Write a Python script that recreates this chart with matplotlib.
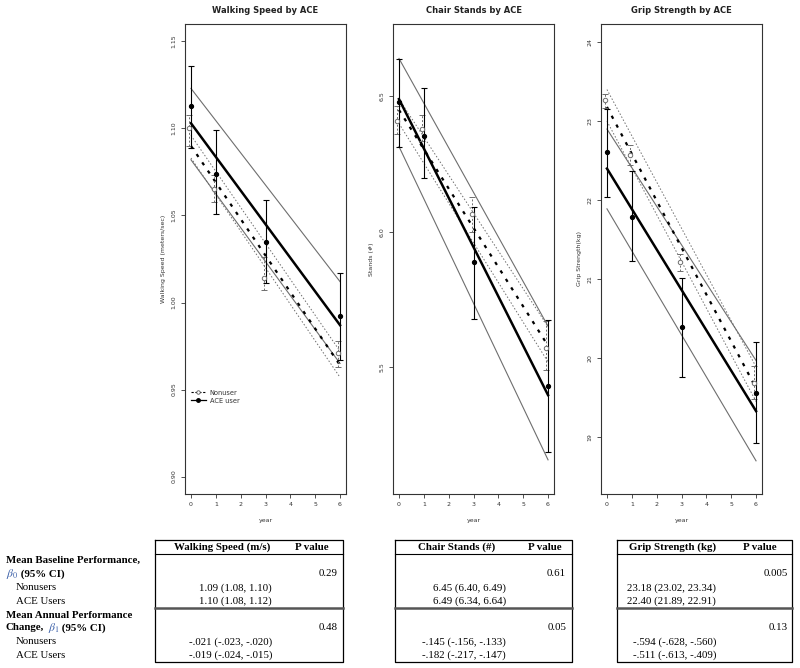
import numpy as np
import matplotlib
matplotlib.use("Agg")
import matplotlib.pyplot as plt
from matplotlib.lines import Line2D

# Observed means and 95% CI error bars, by visit year
years = [0, 1, 3, 6]
fit_years = [0, 6]
offset = -0.08  # nonusers drawn just left of the ACE users

walk_ace = [1.113, 1.074, 1.035, 0.992]
walk_ace_lo = [1.089, 1.051, 1.011, 0.967]
walk_ace_hi = [1.136, 1.099, 1.059, 1.017]
walk_non = [1.100, 1.065, 1.014, 0.971]
walk_non_lo = [1.090, 1.058, 1.007, 0.963]
walk_non_hi = [1.108, 1.073, 1.026, 0.978]

chair_ace = [6.478, 6.352, 5.889, 5.430]
chair_ace_lo = [6.315, 6.200, 5.678, 5.189]
chair_ace_hi = [6.637, 6.530, 6.093, 5.674]
chair_non = [6.410, 6.380, 6.067, 5.570]
chair_non_lo = [6.363, 6.335, 6.000, 5.490]
chair_non_hi = [6.463, 6.430, 6.130, 5.670]

grip_ace = [22.61, 21.79, 20.39, 19.56]
grip_ace_lo = [22.04, 21.23, 19.76, 18.92]
grip_ace_hi = [23.16, 22.37, 21.01, 20.21]
grip_non = [23.27, 22.57, 21.22, 19.68]
grip_non_lo = [23.17, 22.45, 21.10, 19.48]
grip_non_hi = [23.35, 22.70, 21.32, 19.90]

# Fitted lines (value at year 0 and year 6): mean, lower band, upper band
walk_fit_ace = [1.103, 0.987]
walk_fit_ace_lo = [1.082, 0.965]
walk_fit_ace_hi = [1.123, 1.012]
walk_fit_non = [1.090, 0.964]
walk_fit_non_lo = [1.083, 0.957]
walk_fit_non_hi = [1.096, 0.972]

chair_fit_ace = [6.490, 5.398]
chair_fit_ace_lo = [6.315, 5.159]
chair_fit_ace_hi = [6.640, 5.652]
chair_fit_non = [6.450, 5.580]
chair_fit_non_lo = [6.400, 5.520]
chair_fit_non_hi = [6.490, 5.650]

grip_fit_ace = [22.40, 19.33]
grip_fit_ace_lo = [21.89, 18.70]
grip_fit_ace_hi = [22.90, 19.97]
grip_fit_non = [23.18, 19.62]
grip_fit_non_lo = [23.00, 19.45]
grip_fit_non_hi = [23.40, 19.89]

# Table contents
table_rows = ["Mean Baseline Performance,", "", "Nonusers", "ACE Users",
              "Mean Annual Performance", "", "Nonusers", "ACE Users"]
walk_table = ["1.09 (1.08, 1.10)", "1.10 (1.08, 1.12)",
              "-.021 (-.023, -.020)", "-.019 (-.024, -.015)"]
walk_p = ["0.29", "0.48"]
chair_table = ["6.45 (6.40, 6.49)", "6.49 (6.34, 6.64)",
               "-.145 (-.156, -.133)", "-.182 (-.217, -.147)"]
chair_p = ["0.61", "0.05"]
grip_table = ["23.18 (23.02, 23.34)", "22.40 (21.89, 22.91)",
              "-.594 (-.628, -.560)", "-.511 (-.613, -.409)"]
grip_p = ["0.005", "0.13"]

W, H = 800, 668
fig = plt.figure(figsize=(W / 100, H / 100), dpi=100)


def px_axes(x0, x1, y0, y1):
    # pixel box -> figure fraction
    return fig.add_axes([x0 / W, 1 - y1 / H, (x1 - x0) / W, (y1 - y0) / H])


def draw_panel(ax, title, ylabel, ylim, yticks, yfmt,
               ace, ace_lo, ace_hi, non, non_lo, non_hi,
               fit_ace, fit_ace_lo, fit_ace_hi, fit_non, fit_non_lo, fit_non_hi):
    gray = "#6e6e6e"
    # fitted lines
    ax.plot(fit_years, fit_ace_lo, color=gray, lw=0.8)
    ax.plot(fit_years, fit_ace_hi, color=gray, lw=0.8)
    ax.plot(fit_years, fit_non_lo, color=gray, lw=0.7, ls=(0, (1.5, 2)))
    ax.plot(fit_years, fit_non_hi, color=gray, lw=0.7, ls=(0, (1.5, 2)))
    ax.plot(fit_years, fit_non, color="black", lw=1.6, ls=(0, (1.5, 3)))
    ax.plot(fit_years, fit_ace, color="black", lw=1.8)

    # observed means with error bars
    x_non = np.array(years) + offset
    non = np.array(non)
    e = ax.errorbar(x_non, non, yerr=[non - np.array(non_lo), np.array(non_hi) - non],
                    fmt="o", ms=3.2, mfc="white", mec=gray, mew=0.7,
                    ecolor=gray, elinewidth=0.7, capsize=2.2, capthick=0.7)
    e[2][0].set_linestyle((0, (2, 2)))
    ace = np.array(ace)
    ax.errorbar(years, ace, yerr=[ace - np.array(ace_lo), np.array(ace_hi) - ace],
                fmt="o", ms=2.8, color="black", ecolor="black",
                elinewidth=0.8, capsize=2.5, capthick=0.8)

    ax.set_xlim(-0.24, 6.24)
    ax.set_ylim(*ylim)
    ax.set_xticks(range(7))
    ax.set_yticks(yticks)
    ax.set_yticklabels([yfmt % v for v in yticks], rotation=90, va="center")
    ax.tick_params(labelsize=4.5, length=3, width=0.6, pad=3, colors="#333333")
    for s in ax.spines.values():
        s.set_linewidth(0.8)
        s.set_color("#333333")
    ax.set_title(title, fontsize=6, fontweight="bold", pad=8, color="#222222")
    ax.set_xlabel("year", fontsize=4.5, labelpad=8, color="#333333")
    ax.set_ylabel(ylabel, fontsize=4.5, labelpad=4, color="#333333")


ax1 = px_axes(185, 346, 24, 494)
draw_panel(ax1, "Walking Speed by ACE", "Walking Speed (meters/sec)", (0.890, 1.160),
           [0.90, 0.95, 1.00, 1.05, 1.10, 1.15], "%.2f",
           walk_ace, walk_ace_lo, walk_ace_hi, walk_non, walk_non_lo, walk_non_hi,
           walk_fit_ace, walk_fit_ace_lo, walk_fit_ace_hi,
           walk_fit_non, walk_fit_non_lo, walk_fit_non_hi)
ax2 = px_axes(393, 554, 24, 494)
draw_panel(ax2, "Chair Stands by ACE", "Stands (#)", (5.033, 6.767),
           [5.5, 6.0, 6.5], "%.1f",
           chair_ace, chair_ace_lo, chair_ace_hi, chair_non, chair_non_lo, chair_non_hi,
           chair_fit_ace, chair_fit_ace_lo, chair_fit_ace_hi,
           chair_fit_non, chair_fit_non_lo, chair_fit_non_hi)
ax3 = px_axes(601, 762, 24, 494)
draw_panel(ax3, "Grip Strength by ACE", "Grip Strength(kg)", (18.28, 24.23),
           [19, 20, 21, 22, 23, 24], "%d",
           grip_ace, grip_ace_lo, grip_ace_hi, grip_non, grip_non_lo, grip_non_hi,
           grip_fit_ace, grip_fit_ace_lo, grip_fit_ace_hi,
           grip_fit_non, grip_fit_non_lo, grip_fit_non_hi)

# legend in the first panel
handles = [Line2D([], [], color="black", lw=0.8, ls=(0, (2, 1.5)), marker="o", ms=2.5,
                  mfc="white", mec="#555555", mew=0.6),
           Line2D([], [], color="black", lw=0.9, marker="o", ms=2.5)]
ax1.legend(handles, ["Nonuser", "ACE user"], loc="upper left", bbox_to_anchor=(0.0, 0.235),
           frameon=False, fontsize=4.8, handlelength=2.2, handletextpad=0.6,
           labelspacing=0.3, labelcolor="#333333")

# ---- table drawn on a pixel-coordinate overlay ----
tab = fig.add_axes([0, 0, 1, 1])
tab.set_xlim(0, W)
tab.set_ylim(H, 0)
tab.axis("off")
serif = "Liberation Serif"
fs = 7.8
row_y = [560, 574, 588, 601, 615, 628, 642, 655]

for i, label in enumerate(table_rows):
    if label == "":
        continue
    bold = label.startswith("Mean")
    tab.text(6 if bold else 16, row_y[i], label, family=serif, fontsize=fs,
             fontweight="bold" if bold else "normal", va="center", ha="left")

# beta labels with blue symbol
for yy, sub, prefix in [(row_y[1], "0", None), (row_y[5], "1", "Change,")]:
    if prefix is None:
        b = tab.text(6, yy, r"$\beta_{%s}$" % sub, fontsize=fs + 0.6, color="#3a5fa8",
                     math_fontfamily="stix", va="center", ha="left")
    else:
        t = tab.text(6, yy, prefix, family=serif, fontsize=fs, fontweight="bold",
                     va="center", ha="left")
        b = tab.annotate(r"$\beta_{%s}$" % sub, xy=(1, yy), xycoords=(t, "data"),
                         va="center", ha="left", fontsize=fs + 0.6, color="#3a5fa8",
                         math_fontfamily="stix", xytext=(2.5, 0), textcoords="offset points")
    tab.annotate(" (95% CI)", xy=(1, yy), xycoords=(b, "data"), va="center", ha="left",
                 family=serif, fontsize=fs, fontweight="bold")

boxes = [
    (155, 343, "Walking Speed (m/s)", 222, 312, 272, 338, walk_table, walk_p),
    (395, 572, "Chair Stands (#)", 457, 545, 506, 566, chair_table, chair_p),
    (617, 792, "Grip Strength (kg)", 673, 760, 716, 788, grip_table, grip_p),
]
for x0, x1, head, hx, px_, vx, pvx, vals, pvals in boxes:
    tab.plot([x0, x1, x1, x0, x0], [540, 540, 662, 662, 540], color="black", lw=0.9)
    tab.plot([x0, x1], [554, 554], color="black", lw=0.8)
    tab.plot([x0, x1], [608, 608], color="#555555", lw=1.8)
    tab.text(hx, 547, head, family=serif, fontsize=fs, fontweight="bold",
             ha="center", va="center")
    tab.text(px_, 547, "P value", family=serif, fontsize=fs, fontweight="bold",
             ha="center", va="center")
    for v, yy in zip(vals, [row_y[2], row_y[3], row_y[6], row_y[7]]):
        tab.text(vx, yy, v, family=serif, fontsize=fs, ha="right", va="center")
    for p, yy in zip(pvals, [row_y[1], row_y[5]]):
        tab.text(pvx, yy, p, family=serif, fontsize=fs, ha="right", va="center")

fig.savefig("out.png", dpi=100)
